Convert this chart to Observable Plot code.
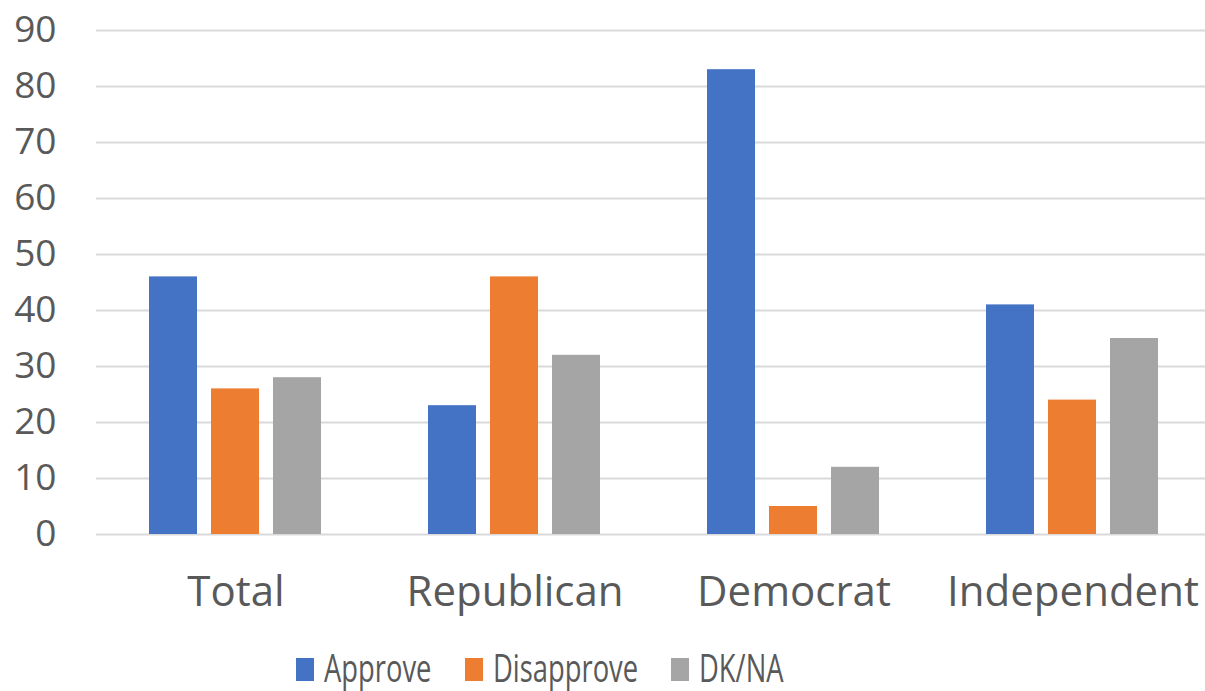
<!DOCTYPE html>
<html><head><meta charset="utf-8">
<script src="https://cdn.jsdelivr.net/npm/d3@7"></script>
<script src="https://cdn.jsdelivr.net/npm/@observablehq/plot@0.6"></script>
<style>
html,body{margin:0;background:#fff;overflow:hidden;}
body{font-family:"Open Sans",sans-serif;width:1205px;height:691px;position:relative;}
#chart{width:1205px;height:632px;overflow:hidden;}
#chart svg{max-width:none !important;}
#legend{position:absolute;left:296px;top:648px;display:flex;align-items:center;color:#595959;font-size:38px;line-height:1;}
.item{display:flex;align-items:center;margin-right:33px;}
.sw{width:18px;height:23px;margin-right:10px;margin-top:4px;}
.lt{display:inline-block;transform:scaleX(0.72);transform-origin:left center;white-space:nowrap;}
</style></head><body><div id="chart"></div><div id="legend"></div>
<script>
const categories = ["Total","Republican","Democrat","Independent"];
const series = ["Approve","Disapprove","DK/NA"];
const approve = [46,23,83,41];
const disapprove = [26,46,5,24];
const dkna = [28,32,12,35];
const colors = ["#4472C4","#ED7D31","#A5A5A5"];
const yTicks = [0,10,20,30,40,50,60,70,80,90];

const values = [approve, disapprove, dkna];
const data = categories.flatMap((c,i)=>series.map((s,j)=>({category:c, series:s, value:values[j][i]})));

const chart = Plot.plot({
  width:1213, height:632, marginTop:30, marginBottom:98, marginLeft:94, marginRight:0,
  style:{fontFamily:"'Open Sans', sans-serif", color:"#595959", background:"#fff", overflow:"visible", maxWidth:"none"},
  fx:{domain:categories, padding:0, label:null},
  x:{domain:series, paddingInner:0.218, paddingOuter:0.845, axis:null},
  y:{domain:[0,90], axis:null},
  color:{domain:series, range:colors},
  marks:[
    Plot.ruleY(yTicks,{stroke:"#d9d9d9",strokeWidth:2}),
    Plot.barY(data,{fx:"category", x:"series", y:"value", fill:"series"}),
    Plot.axisY(yTicks,{tickSize:0, tickPadding:40, fontSize:37, label:null, fill:"#595959"}),
    Plot.axisFx({anchor:"bottom", tickSize:0, tickPadding:42, fontSize:42, label:null, fill:"#595959"})
  ]
});
document.getElementById("chart").appendChild(chart);

const legend = document.getElementById("legend");
series.forEach((s,i)=>{
  const item = document.createElement("div"); item.className="item";
  const sw = document.createElement("div"); sw.className="sw"; sw.style.background=colors[i];
  const t = document.createElement("span"); t.className="lt"; t.textContent=s;
  item.appendChild(sw); item.appendChild(t); legend.appendChild(item);
  t.style.marginRight = (-0.28*t.offsetWidth)+"px";
});
</script></body></html>
